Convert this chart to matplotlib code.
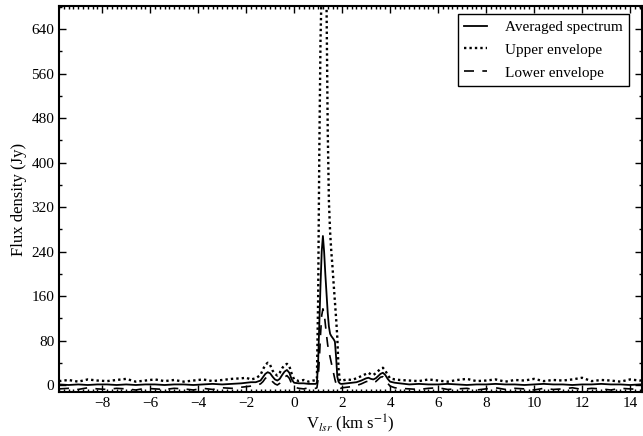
#!/usr/bin/env python3
import matplotlib
matplotlib.use("Agg")
import matplotlib.pyplot as plt
from matplotlib.ticker import MultipleLocator

# velocity channels (km/s), coarse on the baseline, fine across the lines
vel = [
    -9.8, -9.4, -9.0, -8.6, -8.2, -7.8, -7.4, -7.0, -6.6, -6.2,
    -5.8, -5.4, -5.0, -4.6, -4.2, -3.8, -3.4, -3.0, -2.6, -2.2,
    -2.0, -1.8, -1.6, -1.4, -1.3, -1.2, -1.1, -1.0, -0.9, -0.8, -0.7,
    -0.6, -0.5, -0.4, -0.3, -0.2, -0.1, 0.0, 0.2, 0.4, 0.6, 0.8,
    0.90, 0.95, 1.00, 1.05, 1.10, 1.15, 1.20, 1.25, 1.30, 1.35, 1.40,
    1.45, 1.50, 1.55, 1.60, 1.65, 1.70, 1.75, 1.80, 1.85, 1.90, 1.95,
    2.0, 2.2, 2.4, 2.6, 2.8, 3.0, 3.1, 3.2, 3.3, 3.4, 3.5, 3.6, 3.7,
    3.8, 3.9, 4.0, 4.2, 4.4,
    4.8, 5.2, 5.6, 6.0, 6.4, 6.8, 7.2, 7.6, 8.0, 8.4, 8.8, 9.2, 9.6,
    10.0, 10.4, 10.8, 11.2, 11.6, 12.0, 12.4, 12.8, 13.2, 13.6, 14.0, 14.4, 14.8,
]

avg_flux = [
    1, 0, 1, 0, 1, 1, 0, 1, 0, 1,
    1, 0, 1, 1, 0, 1, 2, 1, 2, 3,
    4, 5, 5, 8, 14, 20, 23, 21, 15, 10, 8,
    11, 18, 24, 27, 22, 10, 4, 3, 3, 2, 2,
    2, 4, 40, 110, 180, 240, 268, 240, 200, 165, 130,
    105, 92, 88, 85, 82, 78, 50, 15, 6, 3, 2,
    2, 3, 4, 5, 8, 12, 13, 11, 10, 12, 16, 20, 22,
    18, 11, 6, 4, 3,
    1, 2, 1, 1, 2, 1, 0, 1, 1, 2, 1, 1, 0,
    1, 2, 1, 1, 0, 1, 1, 2, 1, 1, 0, 1, 1,
]

upper_flux = [
    7, 9, 6, 10, 8, 7, 9, 11, 6, 8,
    10, 7, 9, 6, 8, 10, 7, 9, 11, 12,
    13, 10, 12, 18, 28, 36, 40, 36, 26, 20, 17,
    22, 30, 36, 38, 34, 20, 10, 7, 9, 6, 8,
    8, 12, 150, 420, 620, 720, 800, 820, 780, 690, 460,
    330, 275, 240, 212, 180, 150, 120, 85, 30, 9, 7,
    8, 10, 9, 12, 16, 20, 22, 19, 18, 21, 25, 29, 31,
    26, 18, 12, 10, 9,
    8, 7, 10, 8, 6, 9, 11, 7, 8, 10, 6, 9, 8,
    11, 7, 9, 8, 10, 13, 7, 9, 8, 6, 10, 8, 9,
]

lower_flux = [
    -7, -6, -8, -5, -7, -8, -6, -7, -9, -6,
    -7, -8, -6, -7, -9, -6, -8, -5, -6, -4,
    -3, -2, -1, 2, 6, 12, 15, 13, 6, 2, 0,
    3, 9, 14, 17, 12, 2, -4, -6, -7, -5, -6,
    -6, -5, 10, 45, 90, 125, 137, 130, 110, 90, 72,
    60, 50, 40, 30, 20, 10, 2, -4, -6, -7, -6,
    -5, -4, -3, -1, 2, 6, 7, 5, 4, 6, 10, 14, 15,
    10, 3, -2, -5, -6,
    -7, -8, -6, -5, -8, -7, -6, -9, -7, -5, -8, -6, -7,
    -9, -6, -8, -7, -5, -8, -6, -7, -9, -6, -7, -8, -6,
]

y_ticks = [0, 80, 160, 240, 320, 400, 480, 560, 640]


def main():
    assert len(vel) == len(avg_flux) == len(upper_flux) == len(lower_flux)

    plt.rcParams["font.family"] = ["Liberation Serif", "DejaVu Serif"]
    plt.rcParams["mathtext.fontset"] = "stix"
    plt.rcParams["font.size"] = 11

    fig = plt.figure(figsize=(6.43, 4.36), dpi=100)
    ax = fig.add_axes([59 / 643, 1 - 392 / 436, (642 - 59) / 643, (392 - 6) / 436])

    ax.plot(vel, avg_flux, color="black", linewidth=1.3, label="Averaged spectrum")
    ax.plot(vel, upper_flux, color="black", linewidth=1.7, linestyle=(0, (1, 1.3)),
            label="Upper envelope")
    ax.plot(vel, lower_flux, color="black", linewidth=1.2, linestyle=(0, (6, 5)),
            label="Lower envelope")

    ax.set_xlim(-9.8, 14.5)
    ax.set_ylim(-12.6, 681.5)
    ax.set_yticks(y_ticks)
    ax.xaxis.set_major_locator(MultipleLocator(2))
    ax.xaxis.set_minor_locator(MultipleLocator(0.2))
    ax.yaxis.set_minor_locator(MultipleLocator(40))
    ax.tick_params(which="both", direction="in", top=True, right=True, width=1)
    ax.tick_params(which="major", length=5, labelsize=11)
    ax.tick_params(which="minor", length=2.5)
    for s in ax.spines.values():
        s.set_linewidth(1.5)

    ax.set_xlabel("V$_{lsr}$ (km s$^{-1}$)", fontsize=12, labelpad=2)
    ax.set_ylabel("Flux density (Jy)", fontsize=12)
    ax.yaxis.set_label_coords(-0.055, 0.5)

    leg = ax.legend(loc="upper right", bbox_to_anchor=(0.978, 0.979), borderaxespad=0,
                    fancybox=False, edgecolor="black", framealpha=1, fontsize=11,
                    handlelength=1.5, handletextpad=1.2, labelspacing=0.6)
    leg.get_frame().set_linewidth(1.0)

    fig.savefig("out.png", dpi=100)
    plt.close(fig)


if __name__ == "__main__":
    main()
